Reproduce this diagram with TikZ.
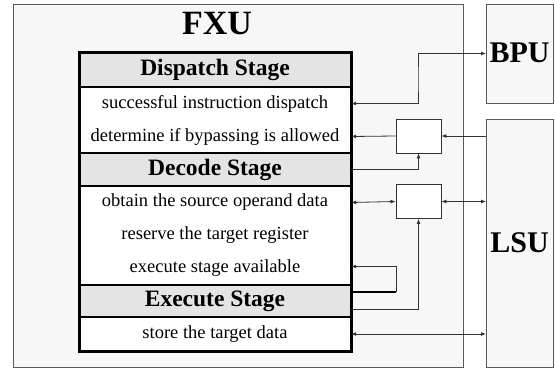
\documentclass[tikz,border=0pt]{standalone}
\usepackage{fontspec}
\setmainfont{Liberation Serif}
\usetikzlibrary{arrows.meta,calc}
\definecolor{unitfill}{HTML}{F7F7F7}
\definecolor{headfill}{HTML}{E4E4E4}
\definecolor{wire}{HTML}{333333}
\begin{document}
\begin{tikzpicture}[x=1pt,y=-1pt,
  unit/.style={draw=black!65,fill=unitfill,line width=0.8pt},
  unitlabel/.style={font=\fontsize{30}{32}\selectfont\bfseries,inner sep=0pt},
  head/.style={rectangle,fill=headfill,minimum width=272pt,minimum height=33pt,inner sep=0pt,
    font=\fontsize{23.5}{25}\selectfont\bfseries},
  row/.style={rectangle,fill=white,minimum width=272pt,minimum height=33pt,inner sep=0pt,
    font=\fontsize{18.5}{20}\selectfont},
  latch/.style={draw=black!80,fill=white,line width=0.8pt,minimum width=45pt,minimum height=34pt,inner sep=0pt},
  wire/.style={draw=wire,line width=0.8pt},
  tip/.style={wire,-{Latex[length=5pt,width=4pt]}},
  tips/.style={wire,{Latex[length=5pt,width=4pt]}-{Latex[length=5pt,width=4pt]}}]
\useasboundingbox (0,0) rectangle (556,371);

% functional units
\draw[unit] (13,4) rectangle (463,367);
\draw[unit] (486,4) rectangle (553,103);
\draw[unit] (486,119) rectangle (553,367);
\node[unitlabel,font=\fontsize{34}{36}\selectfont\bfseries] (fxu) at (217,24) {FXU};
\node[unitlabel] (bpulbl) at (519.5,53) {BPU};
\node[unitlabel] (lsulbl) at (519.5,243) {LSU};
\coordinate (bpu) at (486,53.5);
\coordinate (lsu) at (486,243);

% pipeline stages
\node[head] (dishead) at (215,70)    {Dispatch Stage};
\node[row]  (dis1)    at (215,103.5) {successful instruction dispatch};
\node[row]  (dis2)    at (215,136.5) {determine if bypassing is allowed};
\node[head] (dechead) at (215,169.5) {Decode Stage};
\node[row]  (dec1)    at (215,202.5) {obtain the source operand data};
\node[row]  (dec2)    at (215,235.5) {reserve the target register};
\node[row]  (dec3)    at (215,268.5) {execute stage available};
\node[head,minimum height=32pt] (exehead) at (215,301) {Execute Stage};
\node[row,minimum height=34pt]  (exe1)    at (215,334) {store the target data};

% separators and frame
\draw[line width=1.2pt] (79,87) -- (351,87);
\draw[line width=1.2pt] (79,186) -- (351,186);
\draw[line width=1.2pt] (79,317) -- (351,317);
\draw[line width=2.4pt] (79,153) -- (351,153);
\draw[line width=2.4pt] (79,285) -- (351,285);
\draw[line width=3pt] (79,53) rectangle (351,351);

% latches
\node[latch] (latchA) at (418.5,136) {};
\node[latch] (latchB) at (418.5,201.5) {};

% connections
\coordinate (bpuTurn) at (418,80);
\draw[tips] (dis1.east) -| (bpuTurn) |- (bpu);
\draw[tip] (lsu |- latchA) -- (latchA.east);
\draw[tip] (latchA.west) -- (dis2.east);
\draw[tip] (dechead.east) -| (latchA.south);
\draw[tips] (dec1.east) -- (latchB.west);
\draw[tips] (latchB.east) -- (lsu |- latchB);
\coordinate (loopCorner) at (396,292);
\draw[line width=1.6pt] ([yshift=9pt]exehead.east) -- (loopCorner);
\draw[tip] (loopCorner) |- ([yshift=2pt]dec3.east);
\draw[tip] ([yshift=-8pt]exehead.east) -| (latchB.south);
\draw[tips] (exe1.east) -- (lsu |- exe1.east);
\end{tikzpicture}
\end{document}
